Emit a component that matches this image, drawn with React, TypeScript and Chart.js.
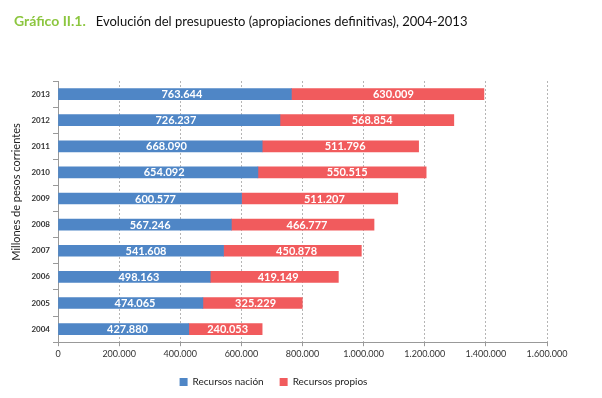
import React, { useEffect, useRef } from "react";
import { Chart, registerables } from "chart.js";

Chart.register(...registerables);

const years = ["2013", "2012", "2011", "2010", "2009", "2008", "2007", "2006", "2005", "2004"];
const recursosNacion = [763644, 726237, 668090, 654092, 600577, 567246, 541608, 498163, 474065, 427880];
const recursosPropios = [630009, 568854, 511796, 550515, 511207, 466777, 450878, 419149, 325229, 240053];
const seriesNames = ["Recursos nación", "Recursos propios"];
const seriesColors = ["#4f86c6", "#f15b5d"];
const xMin = 0;
const xMax = 1600000;
const xStep = 200000;
const titleLabel = "Gráfico II.1.";
const titleText = "Evolución del presupuesto (apropiaciones definitivas), 2004-2013";
const yAxisTitle = "Millones de pesos corrientes";

const FONT = "Lato, 'Open Sans', sans-serif";

function fmt(n: number): string {
  return String(Math.round(n)).replace(/\B(?=(\d{3})+(?!\d))/g, ".");
}

const barLabelPlugin = {
  id: "barLabels",
  afterDatasetsDraw(chart: any) {
    const ctx = chart.ctx;
    ctx.save();
    ctx.font = `bold 11px ${FONT}`;
    ctx.fillStyle = "#ffffff";
    ctx.textAlign = "center";
    ctx.textBaseline = "middle";
    chart.data.datasets.forEach((ds: any, i: number) => {
      const meta = chart.getDatasetMeta(i);
      meta.data.forEach((bar: any, j: number) => {
        const p = bar.getProps(["x", "base", "y"], true);
        const cx = p.base + (p.x - p.base) * 0.53;
        ctx.fillText(fmt(ds.data[j]), cx, p.y + 0.5);
      });
    });
    ctx.restore();
  },
};

const yTitlePlugin = {
  id: "yTitle",
  afterDraw(chart: any) {
    const ctx = chart.ctx;
    ctx.save();
    ctx.translate(16, 192);
    ctx.rotate(-Math.PI / 2);
    ctx.font = `11px ${FONT}`;
    ctx.fillStyle = "#222";
    ctx.textAlign = "center";
    ctx.textBaseline = "middle";
    ctx.fillText(yAxisTitle, 0, 0);
    ctx.restore();
  },
};

export default function App() {
  const canvasRef = useRef<HTMLCanvasElement | null>(null);

  useEffect(() => {
    if (!canvasRef.current) return;
    const chart = new Chart(canvasRef.current, {
      type: "bar",
      data: {
        labels: years,
        datasets: [
          {
            label: seriesNames[0],
            data: recursosNacion,
            backgroundColor: seriesColors[0],
            borderWidth: 0,
            barThickness: 11,
          },
          {
            label: seriesNames[1],
            data: recursosPropios,
            backgroundColor: seriesColors[1],
            borderWidth: 0,
            barThickness: 11,
          },
        ],
      },
      options: {
        indexAxis: "y",
        responsive: false,
        animation: false,
        layout: { padding: { top: 81, right: 55, bottom: 1, left: 0 } },
        plugins: {
          legend: {
            position: "bottom",
            labels: {
              boxWidth: 8,
              boxHeight: 8,
              padding: 16,
              color: "#222",
              font: { family: FONT, size: 10 },
            },
          },
          tooltip: { enabled: false },
        },
        scales: {
          x: {
            stacked: true,
            min: xMin,
            max: xMax,
            ticks: {
              stepSize: xStep,
              callback: (v: any) => fmt(Number(v)),
              color: "#333",
              font: { family: FONT, size: 9 },
              maxRotation: 0,
              padding: 2,
            },
            grid: {
              color: "#b5b5b5",
              tickLength: 4,
              tickColor: "#999",
            },
            border: { color: "#999", dash: [2, 2] },
          },
          y: {
            stacked: true,
            ticks: {
              color: "#333",
              font: { family: FONT, size: 8, weight: "bold" },
              padding: 3,
            },
            grid: { drawOnChartArea: false, tickLength: 5, color: "#999", offset: true },
            border: { color: "#999" },
            afterFit: (s: any) => {
              s.width = 58;
            },
          },
        },
      },
      plugins: [barLabelPlugin, yTitlePlugin],
    } as any);
    return () => chart.destroy();
  }, []);

  return (
    <div style={{ position: "absolute", left: 0, top: 0, width: 602, height: 398, background: "#fff" }}>
      <div
        style={{
          position: "absolute",
          left: 14,
          top: 10,
          fontFamily: FONT,
          whiteSpace: "nowrap",
          color: "#111",
        }}
      >
        <span style={{ color: "#8cc63f", fontWeight: "bold", fontSize: 14 }}>{titleLabel}</span>
        <span style={{ marginLeft: 10, fontSize: 13 }}>{titleText}</span>
      </div>
      <canvas ref={canvasRef} width={602} height={398} style={{ display: "block" }} />
    </div>
  );
}
